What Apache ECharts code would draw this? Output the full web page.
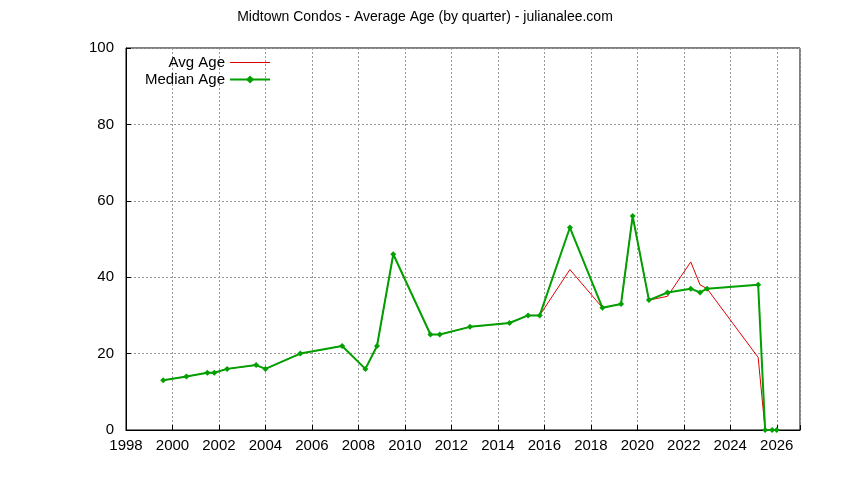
<!DOCTYPE html><html><head><meta charset="utf-8">
<script src="https://cdn.jsdelivr.net/npm/echarts@6/dist/echarts.min.js"></script>
<style>body{margin:0}#c{width:844px;height:480px}</style></head><body><div id="c"></div><script>
const years=[1999.6,2000.6,2001.5,2001.8,2002.35,2003.6,2004.0,2005.5,2007.3,2008.3,2008.8,2009.5,2011.1,2011.5,2012.8,2014.5,2015.3,2015.8,2017.1,2018.5,2019.3,2019.8,2020.5,2021.3,2022.3,2022.7,2023.0,2025.2,2025.5,2025.8,2026.0];
const avgAge=[13,14,15,15,16,17,16,20,22,16,22,46,25,25,27,28,30,30,42,32,33,56,34,35,44,38,37,19,0,0,0];
const medianAge=[13,14,15,15,16,17,16,20,22,16,22,46,25,25,27,28,30,30,53,32,33,56,34,36,37,36,37,38,0,0,0];
const pair=(a)=>years.map((x,i)=>[x,a[i]]);
const c=echarts.init(document.getElementById('c'));
const txt={fontFamily:'Liberation Sans, Arial',fontSize:15,color:'#000'};
c.setOption({animation:false,
title:{text:'Midtown Condos - Average Age (by quarter) - julianalee.com',left:420,textAlign:'center',top:5,textStyle:{...txt,fontSize:14,fontWeight:'normal'}},
legend:{orient:'vertical',left:140,top:50,align:'right',itemGap:2,itemWidth:40,itemHeight:10,textStyle:txt,
 data:[{name:'Avg Age',icon:'path://M0,0L40,0L40,1L0,1Z'},'Median Age']},
grid:{left:126,right:44,top:48,bottom:50,show:true,borderColor:'#000',borderWidth:1},
xAxis:{type:'value',min:1998,max:2027,interval:2,axisLine:{lineStyle:{color:'#000'}},axisTick:{inside:true,lineStyle:{color:'#000'}},axisLabel:{...txt,formatter:v=>v>2026?'':v},splitLine:{lineStyle:{color:'#999',type:[2,2]}}},
yAxis:{type:'value',min:0,max:100,interval:20,axisLine:{show:true,lineStyle:{color:'#000'}},axisTick:{show:true,inside:true,lineStyle:{color:'#000'}},axisLabel:{...txt,margin:12},splitLine:{lineStyle:{color:'#999',type:[2,2]}}},
series:[{name:'Avg Age',type:'line',data:pair(avgAge),showSymbol:false,symbol:'none',lineStyle:{color:'#e00000',width:1},itemStyle:{color:'#e00000'}},
{name:'Median Age',type:'line',data:pair(medianAge),symbol:'diamond',symbolSize:6,lineStyle:{color:'#00a000',width:2},itemStyle:{color:'#00a000'}}]});
</script></body></html>
